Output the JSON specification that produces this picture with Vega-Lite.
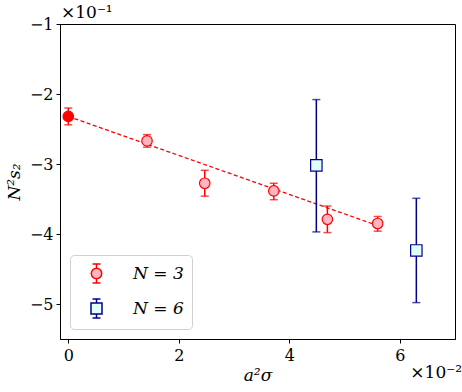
{
  "$schema": "https://vega.github.io/schema/vega-lite/v6.json",
  "autosize": {"type": "none"},
  "width": 395,
  "height": 315,
  "padding": {"left": 60, "top": 24, "right": 7, "bottom": 53},
  "background": "white",
  "config": {
    "view": {"stroke": "#000", "strokeWidth": 1},
    "font": "DejaVu Serif",
    "axis": {"grid": false, "domainColor": "#000", "tickColor": "#000", "labelFont": "DejaVu Serif", "labelFontSize": 16, "labelColor": "#000", "tickSize": 4, "titleFont": "DejaVu Serif", "titleFontSize": 17, "titleFontWeight": "normal", "titleColor": "#000"}
  },
  "datasets": {
    "pts": [
      {"series": "N = 3", "x": 0, "y": -2.32, "lo": -2.44, "hi": -2.20},
      {"series": "N = 3", "x": 1.425, "y": -2.67, "lo": -2.76, "hi": -2.58},
      {"series": "N = 3", "x": 2.47, "y": -3.275, "lo": -3.46, "hi": -3.09},
      {"series": "N = 3", "x": 3.72, "y": -3.385, "lo": -3.51, "hi": -3.275},
      {"series": "N = 3", "x": 4.69, "y": -3.79, "lo": -3.98, "hi": -3.60},
      {"series": "N = 3", "x": 5.6, "y": -3.85, "lo": -3.96, "hi": -3.75},
      {"series": "N = 6", "x": 4.49, "y": -3.02, "lo": -3.97, "hi": -2.08},
      {"series": "N = 6", "x": 6.30, "y": -4.235, "lo": -4.98, "hi": -3.49}
    ],
    "fit": [
      {"x": 0, "y": -2.32},
      {"x": 5.6, "y": -3.88}
    ],
    "corner": [
      {"label": "×10⁻¹"}
    ]
  },
  "layer": [
    {
      "data": {"name": "fit"},
      "mark": {"type": "line", "color": "#ff0000", "strokeDash": [4, 2.5], "strokeWidth": 1.3},
      "encoding": {
        "x": {"field": "x", "type": "quantitative", "scale": {"domain": [-0.15, 7.0], "nice": false, "zero": false},
          "axis": {"values": [0, 2, 4, 6], "labelExpr": "format(datum.value, 'd')", "title": "a²σ", "titleFontStyle": "italic", "titlePadding": 4, "labelPadding": 4}},
        "y": {"field": "y", "type": "quantitative", "scale": {"domain": [-5.5, -1], "nice": false, "zero": false},
          "axis": {"values": [-1, -2, -3, -4, -5], "labelExpr": "'−' + format(abs(datum.value), 'd')", "title": "N²s₂", "titleFontStyle": "italic", "titlePadding": 6, "labelPadding": 3}}
      }
    },
    {
      "data": {"name": "pts"},
      "mark": {"type": "errorbar", "ticks": {"size": 8, "thickness": 1.5}, "rule": {"strokeWidth": 1.5}},
      "encoding": {
        "x": {"field": "x", "type": "quantitative", "title": "a²σ"},
        "y": {"field": "lo", "type": "quantitative", "title": "N²s₂"},
        "y2": {"field": "hi"},
        "color": {"field": "series", "type": "nominal", "scale": {"domain": ["N = 3", "N = 6"], "range": ["#ff0000", "#00008b"]}, "legend": null}
      }
    },
    {
      "data": {"name": "pts"},
      "transform": [{"filter": "datum.x > 0"}],
      "mark": {"type": "point", "filled": true, "opacity": 1, "strokeWidth": 1.2},
      "encoding": {
        "x": {"field": "x", "type": "quantitative", "title": "a²σ"},
        "y": {"field": "y", "type": "quantitative", "title": "N²s₂"},
        "shape": {"field": "series", "type": "nominal", "scale": {"domain": ["N = 3", "N = 6"], "range": ["circle", "square"]}, "legend": null},
        "fill": {"field": "series", "type": "nominal", "scale": {"domain": ["N = 3", "N = 6"], "range": ["#ffb6c1", "#e0ffff"]}, "legend": null},
        "stroke": {"field": "series", "type": "nominal", "scale": {"domain": ["N = 3", "N = 6"], "range": ["#ff0000", "#00008b"]}, "legend": null},
        "size": {"field": "series", "type": "nominal", "scale": {"domain": ["N = 3", "N = 6"], "range": [110, 130]}, "legend": null}
      }
    },
    {
      "data": {"name": "pts"},
      "transform": [{"filter": "datum.x == 0"}],
      "mark": {"type": "point", "filled": true, "opacity": 1, "fill": "#ff0000", "stroke": "#ff0000", "strokeWidth": 1.2, "shape": "circle", "size": 110},
      "encoding": {
        "x": {"field": "x", "type": "quantitative", "title": "a²σ"},
        "y": {"field": "y", "type": "quantitative", "title": "N²s₂"}
      }
    },
    {
      "data": {"name": "pts"},
      "transform": [{"filter": "datum.x > 0"}],
      "mark": {"type": "point", "filled": true, "opacity": 0, "strokeWidth": 1.5},
      "encoding": {
        "x": {"field": "x", "type": "quantitative", "title": "a²σ"},
        "y": {"field": "y", "type": "quantitative", "title": "N²s₂"},
        "shape": {"field": "series", "type": "nominal", "scale": {"domain": ["N = 3", "N = 6"], "range": [
          "M0,-1V-0.55M-0.42,-1H0.42M0,0.55V1M-0.42,1H0.42M-0.55,0A0.55,0.55 0 1,0 0.55,0A0.55,0.55 0 1,0 -0.55,0Z",
          "M0,-1V-0.58M-0.42,-1H0.42M0,0.58V1M-0.42,1H0.42M-0.58,-0.58H0.58V0.58H-0.58Z"]},
          "legend": {"title": null, "orient": "bottom-left", "offset": 10, "padding": 8, "symbolOffset": 8, "symbolSize": 361, "symbolOpacity": 1, "symbolStrokeWidth": 1.5, "labelFont": "DejaVu Serif", "labelFontSize": 17, "labelFontStyle": "italic", "labelColor": "#000", "labelOffset": 26, "rowPadding": 10, "fillColor": "rgba(255,255,255,0.8)", "strokeColor": "#d0d0d0", "cornerRadius": 4}},
        "fill": {"field": "series", "type": "nominal", "scale": {"domain": ["N = 3", "N = 6"], "range": ["#ffb6c1", "#e0ffff"]}},
        "stroke": {"field": "series", "type": "nominal", "scale": {"domain": ["N = 3", "N = 6"], "range": ["#ff0000", "#00008b"]}}
      }
    },
    {
      "data": {"name": "corner"},
      "mark": {"type": "text", "align": "left", "baseline": "bottom", "dy": -2, "dx": 1, "fontSize": 17, "font": "DejaVu Serif", "color": "#000"},
      "encoding": {
        "x": {"datum": -0.15, "type": "quantitative"},
        "y": {"datum": -1, "type": "quantitative"},
        "text": {"field": "label"}
      }
    },
    {
      "data": {"values": [{"label": "×10⁻²"}]},
      "mark": {"type": "text", "align": "right", "baseline": "top", "dy": 26, "dx": 7, "fontSize": 17, "font": "DejaVu Serif", "color": "#000"},
      "encoding": {
        "x": {"datum": 7.0, "type": "quantitative"},
        "y": {"datum": -5.5, "type": "quantitative"},
        "text": {"field": "label"}
      }
    }
  ],
  "resolve": {"scale": {"shape": "independent", "fill": "independent", "stroke": "independent", "size": "independent"}}
}
